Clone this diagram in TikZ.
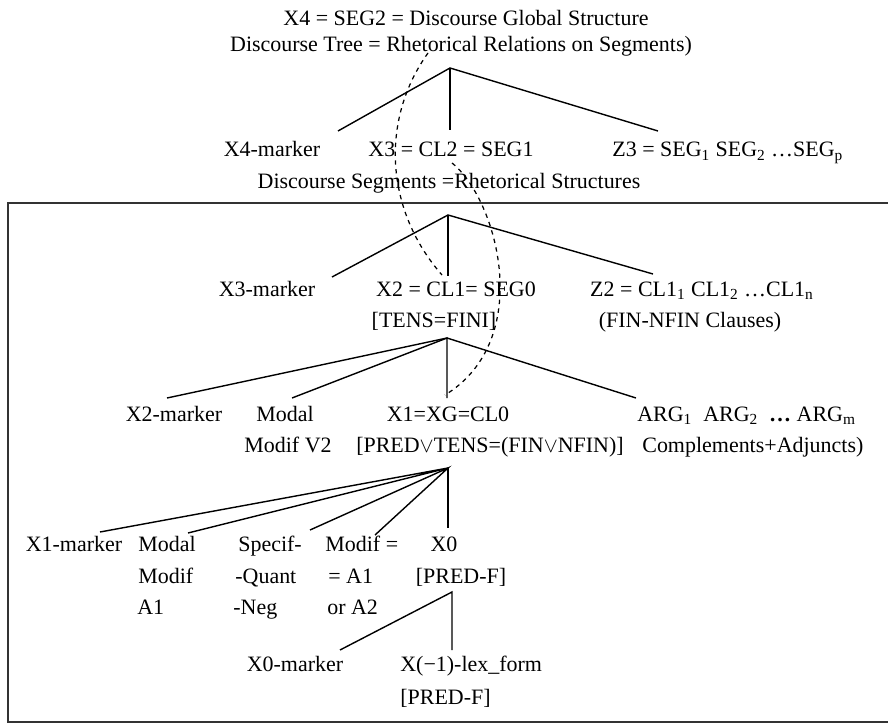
\documentclass[tikz,border=0pt]{standalone}
\usepackage{fontspec}
\setmainfont{Liberation Serif}
\usepackage{tikz}

\begin{document}
\begin{tikzpicture}[x=0.02cm, y=-0.02cm,
    every node/.style={font=\fontsize{12.5}{17.6}\selectfont, inner sep=0pt},
    txt/.style={anchor=base},
    txtl/.style={anchor=base west},
    branch/.style={line width=0.8pt},
    link/.style={line width=0.7pt, dash pattern=on 2.5pt off 2.5pt}]
  \useasboundingbox (0,0) rectangle (888,726);

  % top level: discourse
  \node[txt] (top1) at (466,26) {X4 = SEG2 = Discourse Global Structure};
  \node[txt] (top2) at (461,52) {Discourse Tree = Rhetorical Relations on Segments)};
  \coordinate (r1) at (450,68);
  \node[txt] (x4m) at (272,157) {X4-marker};
  \node[txt] (x3) at (451,157) {X3 = CL2 = SEG1};
  \node[txtl] (z3) at (612,157)
    {Z3 = SEG\textsubscript{1} SEG\textsubscript{2} \ldots SEG\textsubscript{p}};
  \node[txt] (segs) at (449,189) {Discourse Segments =Rhetorical Structures};
  \coordinate (e1a) at (338,131);
  \coordinate (e1b) at (450,130);
  \coordinate (e1c) at (658,131);
  \draw[branch] (e1a) -- (r1) -- (e1c);
  \draw[branch] (r1) -- (e1b);

  % frame
  \draw[line width=1.2pt, black!80] (888,203) -- (8,203) -- (8,722) -- (888,722);

  % clause level
  \coordinate (r2) at (448,215);
  \node[txt] (x3m) at (267,296) {X3-marker};
  \node[txt] (x2) at (456,296) {X2 = CL1= SEG0};
  \node[txt] (z2) at (702,296)
    {Z2 = CL1\textsubscript{1} CL1\textsubscript{2} \ldots CL1\textsubscript{n}};
  \node[txt] (tens) at (434,327) {[TENS=FINI]};
  \node[txt] (fin) at (690,327) {(FIN-NFIN Clauses)};
  \coordinate (e2a) at (332,277);
  \coordinate (e2b) at (448,276);
  \coordinate (e2c) at (653,274);
  \draw[branch] (e2a) -- (r2) -- (e2c);
  \draw[branch] (r2) -- (e2b);

  % predicate level
  \coordinate (r3) at (447,338);
  \node[txt] (x2m) at (174,421) {X2-marker};
  \node[txt] (modal2) at (285,421) {Modal};
  \node[txt] (x1) at (448,421) {X1=XG=CL0};
  \node[txtl] (arg) at (637,421)
    {ARG\textsubscript{1}\ \ ARG\textsubscript{2}\ \ \textbf{\ldots}\ ARG\textsubscript{m}};
  \node[txt] (modif2) at (288,452) {Modif V2};
  \node[txt] (pred) at (490,452) {[PRED$\vee$TENS=(FIN$\vee$NFIN)]};
  \node[txtl] (comp) at (642,452) {Complements+Adjuncts)};
  \coordinate (e3a) at (167,398);
  \coordinate (e3b) at (292,398);
  \coordinate (e3c) at (447,398);
  \coordinate (e3d) at (636,398);
  \draw[branch] (e3a) -- (r3) -- (e3d);
  \draw[branch] (e3b) -- (r3) -- (e3c);

  % word level
  \coordinate (r4) at (448,468);
  \node[txt] (x1m) at (74,551) {X1-marker};
  \node[txtl] (modal1) at (138,551) {Modal};
  \node[txtl] (modif1) at (138,583) {Modif};
  \node[txtl] (a1) at (137,614) {A1};
  \node[txtl] (spec) at (238,551) {Specif-};
  \node[txtl] (quant) at (235,583) {-Quant};
  \node[txtl] (neg) at (233,614) {-Neg};
  \node[txtl] (mdf) at (325,551) {Modif =};
  \node[txtl] (eqa) at (328,583) {= A1};
  \node[txtl] (ora) at (327,614) {or A2};
  \node[txt] (x0) at (444,551) {X0};
  \node[txt] (predf1) at (461,583) {[PRED-F]};
  \coordinate (e4a) at (100,532);
  \coordinate (e4b) at (188,533);
  \coordinate (e4c) at (310,530);
  \coordinate (e4d) at (375,535);
  \coordinate (e4e) at (448,528);
  \draw[branch] (e4a) -- (r4) -- (e4b);
  \draw[branch] (e4c) -- (r4) -- (e4d);
  \draw[branch] (r4) -- (e4e);

  % lexical level
  \coordinate (r5) at (452,592);
  \node[txt] (x0m) at (295,671) {X0-marker};
  \node[txtl] (lex) at (400,671) {X(−1)-lex\_form};
  \node[txtl] (predf2) at (400,704) {[PRED-F]};
  \coordinate (e5a) at (340,650);
  \coordinate (e5b) at (452,650);
  \draw[branch] (e5a) -- (r5) -- (e5b);

  % dashed links between levels
  \coordinate (d1s) at (428,53);
  \coordinate (d1e) at (442,275);
  \coordinate (d2s) at (452,163);
  \coordinate (d2e) at (445,395);
  \draw[link] (d1s) .. controls (380,120) and (385,210) .. (d1e);
  \draw[link] (d2s) .. controls (498,200) and (535,340) .. (d2e);
\end{tikzpicture}
\end{document}
